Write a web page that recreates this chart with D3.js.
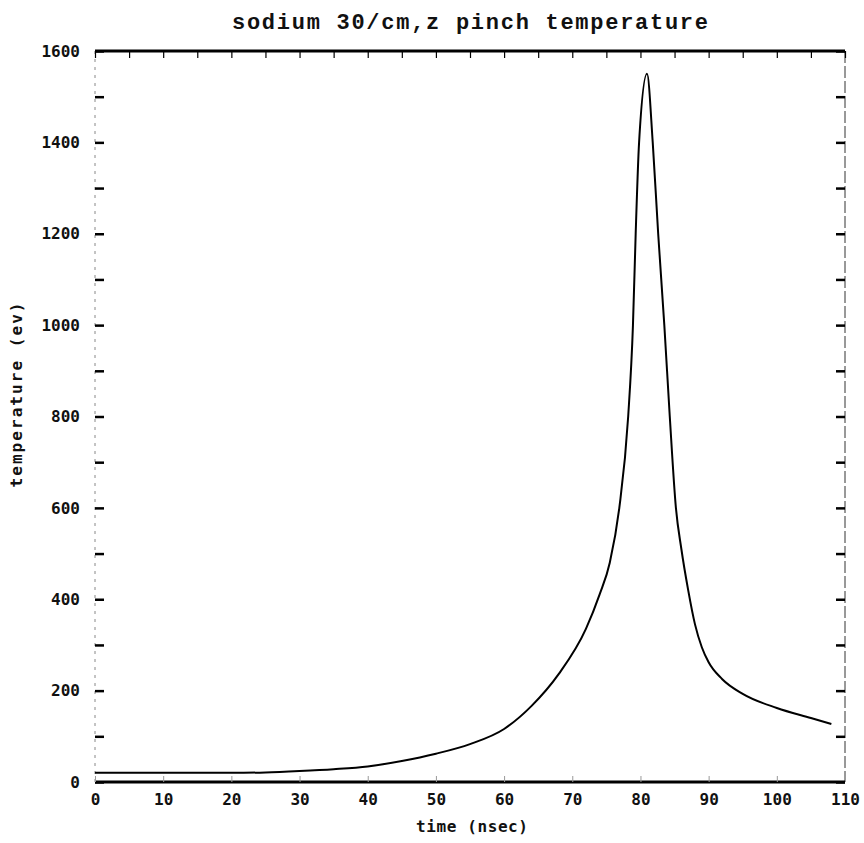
<!DOCTYPE html>
<html>
<head>
<meta charset="utf-8">
<script src="https://cdn.jsdelivr.net/npm/d3@7"></script>
<style>
  body { margin: 0; background: #fff; }
  .lbl { font-family: "DejaVu Sans Mono", monospace; font-weight: bold; font-size: 16px; fill: #111; }
</style>
</head>
<body>
<svg id="chart"></svg>
<script>
var timeNs = [0, 5, 10, 15, 20, 25, 30, 35, 40, 45, 50, 55, 60, 64, 68, 72, 74, 75.5, 76.9, 78.2, 78.9, 79.3, 79.8, 80.96, 81.8, 82.6, 83.5, 84.3, 85.2, 86, 87, 88, 89, 90, 92, 95, 100, 105, 108]
var tempEv = [20, 20, 20, 20, 20, 21, 24, 28, 34, 46, 62, 83, 116, 166, 236, 335, 410, 480, 600, 800, 1000, 1200, 1400, 1550, 1400, 1200, 1000, 800, 600, 510, 420, 345, 295, 262, 225, 193, 162, 140, 127]

var xTicks = d3.range(0, 111, 10)
var xMinor = d3.range(0, 111, 5)
var yTicks = d3.range(0, 1601, 200)
var yMinor = d3.range(0, 1601, 100)

var width = 864
var height = 843
var plotLeft = 95, plotRight = 845, plotTop = 51, plotBottom = 782

var svg = d3.select("#chart").attr("width", width).attr("height", height)

var xScale = d3.scaleLinear().domain([0, 110]).range([plotLeft, plotRight])
var yScale = d3.scaleLinear().domain([0, 1600]).range([plotBottom, plotTop])

// title
svg.append("text")
	.attr("x", 470)
	.attr("y", 29)
	.attr("text-anchor", "middle")
	.attr("font-family", "Liberation Mono, Courier New, monospace")
	.attr("font-weight", "bold")
	.attr("font-size", 22)
	.attr("textLength", 476)
	.attr("fill", "#111")
	.text("sodium 30/cm,z pinch temperature")

// frame: faint left, thin right, thick top/bottom
svg.append("line")
	.attr("x1", plotLeft).attr("x2", plotLeft).attr("y1", plotTop).attr("y2", plotBottom)
	.attr("stroke", "#888").attr("stroke-width", 1).attr("stroke-dasharray", "3,5")
svg.append("line")
	.attr("x1", plotRight).attr("x2", plotRight).attr("y1", plotTop).attr("y2", plotBottom)
	.attr("stroke", "#333").attr("stroke-width", 1).attr("stroke-dasharray", "12,3")
svg.append("line")
	.attr("x1", plotLeft).attr("x2", plotRight).attr("y1", plotTop).attr("y2", plotTop)
	.attr("stroke", "#000").attr("stroke-width", 3)
svg.append("line")
	.attr("x1", plotLeft).attr("x2", plotRight).attr("y1", plotBottom).attr("y2", plotBottom)
	.attr("stroke", "#000").attr("stroke-width", 3)

// left ticks (inward) + labels
var yAxis = svg.append("g")
	.attr("transform", "translate(" + plotLeft + ",0)")
	.call(d3.axisLeft(yScale).tickValues(yMinor).tickSize(-9).tickPadding(15)
		.tickFormat(function (d) { return yTicks.indexOf(d) >= 0 ? d : "" }))
yAxis.select(".domain").remove()
yAxis.selectAll(".tick line").attr("stroke", "#000").attr("stroke-width", 2.5)
yAxis.selectAll("text").attr("class", "lbl")

// right ticks (inward)
var yRight = svg.append("g")
	.attr("transform", "translate(" + plotRight + ",0)")
	.call(d3.axisRight(yScale).tickValues(yMinor).tickSize(-9).tickFormat(""))
yRight.select(".domain").remove()
yRight.selectAll(".tick line").attr("stroke", "#000").attr("stroke-width", 2.5)

// top ticks (downward)
var xTop = svg.append("g")
	.attr("transform", "translate(0," + plotTop + ")")
	.call(d3.axisTop(xScale).tickValues(xMinor).tickSize(-7).tickFormat(""))
xTop.select(".domain").remove()
xTop.selectAll(".tick line").attr("stroke", "#000").attr("stroke-width", 1.2)

// bottom ticks (faint, upward) + labels
var xAxis = svg.append("g")
	.attr("transform", "translate(0," + plotBottom + ")")
	.call(d3.axisBottom(xScale).tickValues(xTicks).tickSize(-6).tickPadding(12))
xAxis.select(".domain").remove()
xAxis.selectAll(".tick line").attr("stroke", "#999").attr("stroke-width", 1)
xAxis.selectAll("text").attr("class", "lbl")

// axis titles
svg.append("text")
	.attr("class", "lbl")
	.attr("x", 472)
	.attr("y", 832)
	.attr("text-anchor", "middle")
	.attr("font-size", 14)
	.attr("textLength", 112)
	.text("time (nsec)")

svg.append("text")
	.attr("class", "lbl")
	.attr("transform", "translate(22,395) rotate(-90)")
	.attr("text-anchor", "middle")
	.attr("font-size", 13)
	.attr("textLength", 185)
	.text("temperature (ev)")

// curve
var line = d3.line()
	.x(function (d, i) { return xScale(timeNs[i]) })
	.y(function (d) { return yScale(d) })
	.curve(d3.curveMonotoneX)

svg.append("path")
	.attr("d", line(tempEv))
	.attr("fill", "none")
	.attr("stroke", "#000")
	.attr("stroke-width", 2)
</script>
</body>
</html>
